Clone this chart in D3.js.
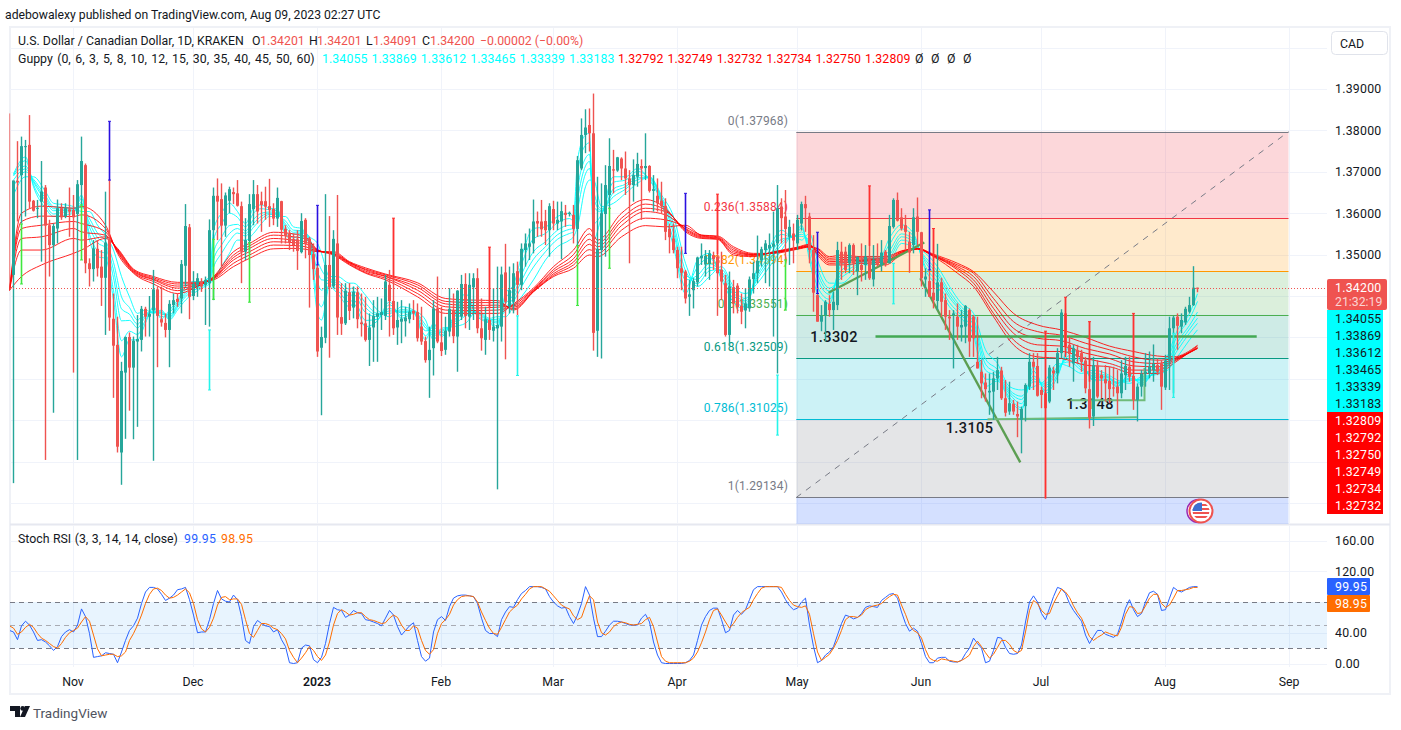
<!DOCTYPE html>
<html>
<head>
<meta charset="utf-8">
<script src="https://cdn.jsdelivr.net/npm/d3@7"></script>
<style>
html,body{margin:0;padding:0;background:#fff}
svg{display:block}
text{font-family:Roboto,"Noto Sans",sans-serif}
</style>
</head>
<body>
<svg id="chart" width="1401" height="730"></svg>
<script>
// USD/CAD daily bars, one list per month: [open, high, low, close] in 1/10000 of a dollar.
const oct22 = [[13420,13841,13414,13414],[13451,13679,12948,13679],[13678,13774,13580,13674],[13692,13785,13575,13762],[13760,13777,13592,13762],[13765,13837,13612,13628],[13630,13632,13604,13606],[13611,13632,13588,13613],[13628,13726,13483,13652],[13662,13668,13004,13570],[13571,13584,13447,13523],[13523,13575,13118,13569],[13563,13633,13527,13612],[13612,13624,13584,13590],[13592,13624,13588,13612],[13609,13662,13543,13604]];
const nov22 = [[13608,13644,13215,13590],[13598,13680,13004,13670],[13668,13785,13620,13726],[13716,13720,13455,13479],[13479,13491,13423,13465],[13465,13535,13435,13515],[13514,13535,13447,13467],[13471,13511,13376,13444],[13444,13652,13306,13529],[13538,13680,13316,13348],[13345,13406,13154,13280],[13282,13350,13022,13036],[13022,13241,12944,13219],[13215,13302,13055,13301],[13301,13312,13123,13227],[13227,13302,13054,13292],[13290,13354,13084,13296],[13294,13376,13266,13369],[13369,13374,13302,13350],[13350,13400,13302,13357],[13365,13463,13002,13416],[13416,13423,13228,13352],[13344,13423,13326,13336],[13335,13358,13300,13318],[13318,13390,13228,13381],[13378,13406,13358,13390],[13393,13406,13374,13386],[13394,13487,13358,13477],[13473,13622,13423,13569],[13566,13574,13344,13398]];
const dec22 = [[13400,13460,13390,13429],[13427,13455,13398,13443],[13435,13443,13410,13423],[13427,13447,13330,13439],[13431,13585,13326,13559],[13559,13662,13390,13642],[13642,13684,13535,13628],[13634,13672,13471,13570],[13570,13650,13543,13643],[13630,13664,13600,13658],[13651,13662,13622,13646],[13648,13680,13616,13618],[13617,13628,13431,13507],[13507,13588,13487,13535],[13533,13646,13503,13622],[13610,13680,13571,13646],[13646,13668,13575,13604],[13629,13652,13555,13620],[13629,13664,13584,13616],[13617,13683,13567,13608],[13610,13624,13571,13587],[13587,13662,13567,13637],[13629,13630,13527,13560],[13562,13571,13527,13546],[13551,13559,13511,13530],[13538,13551,13507,13523],[13537,13559,13463,13509],[13506,13600,13503,13581],[13584,13588,13491,13526],[13539,13543,13372,13499],[13501,13527,13439,13465]];
const jan23 = [[13468,13475,13253,13266],[13275,13326,13112,13301],[13299,13646,13286,13475],[13475,13593,13251,13421],[13423,13559,13419,13538],[13527,13644,13306,13348],[13349,13431,13306,13333],[13334,13431,13330,13413],[13409,13431,13342,13364],[13372,13423,13346,13410],[13409,13423,13322,13344],[13336,13406,13302,13332],[13334,13398,13290,13294],[13294,13358,13231,13324],[13324,13390,13241,13352],[13350,13398,13241,13358],[13354,13394,13318,13361],[13352,13451,13342,13435],[13427,13463,13302,13388],[13388,13588,13306,13322],[13324,13386,13282,13342],[13338,13390,13286,13345],[13339,13374,13302,13348],[13344,13382,13334,13362],[13364,13390,13342,13358],[13361,13382,13290,13298],[13326,13374,13282,13290],[13291,13302,13239,13245],[13245,13326,13154,13270],[13274,13390,13208,13370],[13370,13447,13286,13290]];
const feb23 = [[13288,13374,13255,13267],[13270,13350,13258,13316],[13314,13419,13302,13369],[13366,13406,13286,13303],[13302,13414,13217,13413],[13350,13451,13342,13429],[13429,13455,13322,13352],[13350,13455,13318,13427],[13421,13455,13342,13443],[13443,13467,13310,13322],[13322,13394,13268,13298],[13294,13374,13258,13344],[13342,13518,13294,13318],[13316,13419,13290,13326],[13322,13471,12933,13330],[13326,13471,13290,13452],[13457,13526,13247,13386],[13374,13471,13358,13414],[13386,13479,13358,13455],[13460,13483,13354,13427],[13427,13527,13414,13514],[13511,13551,13471,13527],[13519,13563,13487,13527],[13527,13633,13503,13580],[13581,13604,13543,13575],[13580,13632,13543,13561],[13581,13608,13523,13559],[13559,13624,13495,13617]];
const mar23 = [[13610,13630,13559,13575],[13575,13628,13559,13584],[13580,13628,13489,13605],[13601,13620,13567,13596],[13598,13604,13592,13601],[13596,13620,13527,13562],[13562,13738,13523,13728],[13708,13829,13704,13789],[13789,13851,13745,13807],[13813,13853,13749,13793],[13793,13889,13268,13311],[13316,13688,13253,13514],[13511,13672,13249,13600],[13598,13716,13495,13668],[13644,13781,13612,13714],[13706,13753,13648,13703],[13703,13736,13700,13735],[13732,13735,13680,13708],[13708,13749,13644,13684],[13684,13704,13479,13668],[13668,13730,13628,13692],[13688,13746,13664,13719],[13714,13730,13584,13708],[13709,13793,13680,13714],[13714,13716,13650,13654],[13654,13692,13604,13658],[13642,13684,13604,13624],[13630,13676,13600,13617],[13617,13636,13535,13555],[13562,13575,13503,13542],[13539,13575,13503,13511]];
const apr23 = [[13511,13519,13443,13467],[13467,13519,13414,13456],[13459,13463,13382,13394],[13398,13439,13352,13404],[13414,13443,13370,13436],[13433,13495,13423,13493],[13491,13527,13475,13497],[13476,13511,13447,13497],[13477,13511,13439,13503],[13499,13507,13463,13489],[13495,13646,13352,13455],[13463,13507,13390,13435],[13431,13451,13302,13306],[13306,13459,13278,13423],[13421,13439,13358,13382],[13425,13431,13358,13373],[13376,13406,13332,13362],[13365,13419,13322,13382],[13370,13447,13362,13440],[13441,13483,13406,13455],[13455,13546,13431,13485],[13487,13519,13471,13513],[13511,13535,13431,13527],[13515,13551,13423,13523],[13519,13604,13302,13527],[13527,13668,13213,13612],[13616,13636,13527,13588],[13592,13656,13487,13562],[13543,13584,13475,13567],[13551,13575,13479,13534]];
const may23 = [[13527,13596,13511,13584],[13575,13628,13558,13622],[13622,13642,13555,13612],[13592,13601,13479,13511],[13511,13547,13362,13408],[13402,13406,13338,13338],[13338,13378,13315,13352],[13354,13390,13290,13386],[13381,13402,13350,13366],[13366,13410,13318,13386],[13378,13531,13366,13511],[13507,13531,13439,13479],[13507,13519,13455,13463],[13479,13527,13455,13523],[13523,13527,13451,13479],[13459,13495,13402,13495],[13475,13527,13435,13463],[13475,13523,13439,13495],[13491,13666,13439,13443],[13440,13523,13423,13487],[13489,13527,13471,13475],[13475,13535,13459,13505],[13507,13511,13471,13479],[13479,13596,13479,13569],[13567,13636,13563,13632],[13632,13650,13580,13582],[13590,13612,13558,13563],[13571,13596,13511,13555],[13531,13555,13456,13505],[13523,13612,13503,13590],[13592,13638,13523,13555]];
const jun23 = [[13554,13555,13423,13443],[13440,13467,13398,13447],[13436,13463,13398,13398],[13408,13563,13370,13390],[13388,13526,13366,13433],[13433,13444,13350,13386],[13390,13406,13318,13350],[13350,13366,13294,13346],[13354,13366,13225,13358],[13350,13382,13294,13326],[13324,13366,13290,13330],[13326,13378,13286,13376],[13366,13370,13253,13290],[13350,13354,13253,13298],[13241,13350,13225,13225],[13217,13245,13153,13189],[13191,13213,13145,13175],[13167,13213,13113,13171],[13169,13217,13101,13201],[13201,13253,13173,13221],[13220,13229,13149,13153],[13153,13197,13109,13118],[13121,13193,13113,13141],[13139,13149,13113,13121],[13115,13145,13059,13109],[13101,13133,13020,13127],[13134,13189,13097,13185],[13181,13262,13173,13241],[13241,13262,13173,13229],[13231,13262,13157,13159]];
const jul23 = [[13173,13181,13129,13161],[13165,13315,12911,13129],[13145,13233,13141,13227],[13220,13229,13173,13213],[13213,13274,13189,13262],[13262,13368,13249,13360],[13358,13397,13270,13278],[13282,13302,13229,13260],[13237,13282,13193,13274],[13268,13282,13237,13253],[13262,13270,13217,13241],[13244,13253,13165,13177],[13175,13338,13080,13105],[13109,13253,13086,13233],[13232,13245,13153,13157],[13209,13221,13153,13201],[13199,13233,13145,13189],[13195,13229,13141,13175],[13179,13229,13157,13177],[13181,13221,13113,13165],[13165,13245,13153,13213],[13209,13253,13173,13231],[13229,13253,13193,13205],[13207,13358,13125,13149],[13149,13189,13097,13181],[13181,13221,13157,13212],[13212,13262,13181,13217],[13213,13266,13201,13229],[13221,13283,13193,13236],[13233,13249,13209,13217],[13237,13245,13125,13181]];
const aug23 = [[13179,13258,13173,13244],[13245,13350,13173,13322],[13322,13352,13165,13348],[13350,13358,13270,13328],[13326,13358,13310,13342],[13336,13374,13330,13369],[13362,13398,13358,13378],[13378,13472,13376,13420],[13420.1,13420.1,13409.1,13420]];

// Fast Guppy lines read at irregular days: [day number, ema3, ema5, ema8, ema10, ema12, ema15].
const fastRibbonAutumn = [[0,13695,13692,13690,13680,13665,13644],[3,13736,13727,13714,13707,13700,13688],[5,13664,13669,13675,13678,13682,13688],[8,13612,13620,13630,13636,13642,13652],[10,13592,13598,13606,13611,13616,13624],[13,13596,13603,13607,13610,13614,13620],[15,13600,13603,13607,13610,13612,13616],[17,13644,13636,13626,13620,13614,13604],[19,13535,13549,13566,13576,13587,13604],[21,13495,13510,13529,13541,13552,13571],[23,13491,13502,13516,13525,13533,13547],[25,13390,13414,13444,13463,13481,13511],[27,13253,13292,13340,13369,13398,13447],[29,13294,13315,13341,13356,13372,13398],[31,13294,13307,13323,13332,13342,13358],[33,13335,13342,13350,13354,13359,13366],[35,13374,13370,13364,13362,13360,13358],[37,13345,13350,13356,13360,13362,13366],[39,13366,13360,13354,13350,13346,13342],[41,13390,13385,13380,13376,13372,13366],[43,13423,13416,13408,13403,13398,13390],[45,13435,13429,13422,13418,13413,13406],[47,13435,13432,13428,13425,13423,13419],[49,13447,13443,13439,13436,13434,13429]];
const fastRibbonWinter = [[50,13559,13535,13505,13487,13469,13439],[52,13600,13574,13542,13523,13503,13471],[54,13624,13600,13570,13551,13533,13503],[56,13604,13590,13573,13563,13552,13535],[58,13575,13567,13557,13551,13545,13535],[60,13612,13600,13585,13575,13566,13551],[62,13620,13611,13600,13593,13586,13575],[64,13612,13608,13603,13600,13597,13592],[66,13610,13606,13602,13599,13596,13592],[68,13547,13556,13567,13574,13581,13592],[70,13535,13541,13549,13554,13559,13567],[72,13543,13547,13552,13555,13558,13563],[74,13527,13530,13534,13537,13539,13543],[76,13358,13392,13434,13459,13485,13527],[77,13342,13374,13414,13439,13463,13503],[79,13423,13428,13434,13437,13441,13447],[81,13406,13414,13425,13431,13437,13447],[84,13374,13385,13400,13408,13417,13431],[85,13382,13391,13404,13412,13420,13431],[88,13326,13341,13360,13372,13383,13402],[91,13340,13344,13350,13354,13358,13366],[94,13386,13379,13370,13364,13358,13350],[97,13346,13352,13359,13363,13367,13374],[100,13358,13360,13362,13363,13364,13366],[103,13294,13304,13316,13323,13330,13342],[105,13334,13326,13316,13310,13304,13294],[107,13302,13306,13311,13314,13317,13322],[110,13350,13344,13338,13334,13330,13326],[113,13406,13392,13374,13363,13352,13334],[116,13350,13353,13357,13359,13362,13366],[119,13334,13336,13339,13341,13343,13346],[121,13322,13328,13335,13339,13344,13350]];
const fastRibbonSpring = [[123,13406,13395,13381,13372,13364,13350],[125,13427,13416,13403,13395,13387,13374],[127,13495,13476,13452,13437,13422,13398],[130,13563,13538,13507,13489,13470,13439],[133,13567,13551,13531,13519,13507,13487],[136,13592,13577,13559,13548,13537,13519],[139,13600,13587,13571,13561,13551,13535],[140,13592,13582,13570,13563,13555,13543],[141,13728,13696,13656,13632,13607,13567],[143,13789,13764,13733,13714,13695,13664],[144,13793,13770,13742,13725,13708,13680],[145,13535,13575,13615,13637,13655,13680],[147,13592,13597,13603,13606,13610,13616],[150,13688,13675,13659,13650,13640,13624],[153,13688,13680,13670,13664,13658,13648],[156,13708,13701,13692,13686,13681,13672],[159,13680,13682,13684,13685,13686,13688],[162,13624,13628,13633,13636,13639,13644],[165,13519,13534,13552,13563,13574,13592],[168,13406,13421,13439,13450,13461,13479],[171,13487,13470,13450,13440,13430,13423],[174,13503,13492,13478,13469,13461,13447],[177,13440,13447,13455,13459,13464,13471],[180,13385,13392,13402,13408,13414,13423],[183,13368,13374,13382,13388,13394,13406],[186,13471,13463,13453,13447,13441,13431],[189,13519,13509,13497,13490,13483,13471],[192,13559,13549,13537,13530,13523,13511],[195,13540,13541,13543,13544,13545,13547],[197,13571,13564,13555,13549,13544,13535],[199,13487,13500,13516,13525,13535,13551],[201,13406,13422,13442,13455,13467,13487],[204,13382,13392,13404,13412,13419,13431],[207,13487,13476,13462,13453,13445,13431]];
const fastRibbonSummer = [[210,13495,13487,13477,13471,13465,13455],[213,13475,13479,13484,13487,13490,13495],[216,13479,13482,13486,13489,13491,13495],[219,13540,13525,13510,13500,13495,13487],[222,13572,13562,13550,13543,13535,13527],[225,13551,13545,13537,13532,13527,13519],[228,13463,13471,13481,13487,13493,13503],[231,13423,13433,13444,13452,13459,13471],[234,13374,13384,13396,13403,13411,13423],[237,13345,13353,13362,13367,13373,13382],[240,13305,13316,13329,13337,13345,13358],[243,13181,13199,13221,13235,13248,13270],[246,13195,13198,13205,13212,13222,13237],[249,13149,13155,13163,13168,13173,13181],[252,13125,13130,13140,13150,13158,13173],[255,13229,13219,13207,13200,13193,13181],[258,13165,13171,13179,13184,13189,13197],[261,13205,13211,13219,13224,13229,13237],[264,13278,13268,13256,13249,13241,13229],[267,13245,13239,13231,13226,13221,13213],[270,13195,13198,13203,13207,13213,13221],[273,13197,13200,13204,13206,13209,13213],[276,13181,13184,13188,13190,13192,13197],[279,13213,13208,13202,13199,13195,13189],[282,13185,13189,13194,13197,13200,13205],[285,13217,13215,13213,13212,13211,13209],[288,13245,13239,13232,13228,13224,13217],[291,13318,13305,13289,13279,13269,13253],[294,13358,13345,13329,13320,13310,13294],[296,13405.5,13386.9,13361.2,13346.5,13333.9,13318.3]];

// Slow Guppy lines: [day number, ema30, ema35, ema40, ema45, ema50, ema60].
const slowRibbonFirst = [[-1,13414,13414,13414,13414,13414,13414],[2,13600,13580,13563,13539,13511,13447],[7,13617,13593,13571,13543,13511,13475],[15,13612,13592,13580,13563,13539,13503],[17,13616,13596,13575,13555,13535,13511],[23,13571,13563,13555,13547,13543,13539],[26,13503,13507,13509,13511,13513,13515],[30,13455,13457,13459,13461,13463,13465],[35,13429,13435,13439,13441,13444,13447],[41,13406,13413,13419,13424,13429,13433],[46,13423,13424,13427,13429,13431,13433],[50,13447,13445,13443,13443,13441,13439],[55,13507,13499,13493,13487,13479,13471],[59,13527,13521,13515,13507,13499,13491],[65,13554,13547,13539,13531,13523,13514],[70,13550,13543,13535,13529,13522,13515],[73,13543,13538,13531,13526,13519,13513],[76,13511,13512,13510,13509,13508,13507],[80,13499,13501,13502,13503,13505,13507],[84,13475,13477,13479,13481,13481,13483],[88,13455,13457,13460,13463,13465,13468],[93,13439,13443,13447,13448,13451,13453],[101,13398,13406,13414,13421,13427,13432],[108,13358,13366,13374,13381,13387,13394],[115,13358,13365,13371,13377,13384,13390],[121,13358,13366,13373,13378,13384,13389],[125,13381,13378,13376,13373,13369,13366],[130,13419,13416,13414,13412,13411,13410],[135,13471,13464,13459,13454,13450,13447],[140,13511,13500,13490,13482,13475,13467]];
const slowRibbonLast = [[144,13563,13550,13537,13525,13512,13499],[146,13535,13527,13519,13511,13503,13495],[152,13600,13588,13580,13570,13559,13543],[158,13633,13622,13612,13604,13588,13570],[163,13612,13608,13604,13596,13584,13567],[168,13555,13558,13561,13563,13567,13571],[172,13539,13541,13543,13545,13547,13547],[176,13537,13538,13540,13541,13543,13545],[180,13499,13503,13507,13511,13515,13519],[185,13495,13497,13499,13500,13501,13503],[190,13507,13506,13505,13504,13504,13503],[196,13518,13517,13516,13515,13514,13513],[199,13525,13523,13521,13520,13519,13518],[201,13499,13503,13507,13509,13513,13515],[204,13475,13479,13483,13487,13491,13495],[207,13475,13480,13484,13488,13493,13499],[212,13479,13483,13486,13489,13492,13495],[218,13475,13480,13484,13487,13491,13495],[222,13501,13503,13505,13506,13508,13509],[226,13513,13514,13514,13514,13515,13515],[230,13495,13497,13497,13498,13499,13501],[236,13455,13463,13467,13471,13475,13479],[240,13423,13431,13439,13447,13455,13459],[245,13350,13358,13370,13382,13394,13410],[250,13282,13294,13310,13322,13338,13358],[256,13253,13266,13282,13298,13314,13330],[262,13249,13266,13279,13292,13305,13318],[268,13233,13249,13262,13273,13286,13300],[274,13229,13237,13249,13260,13270,13279],[280,13213,13221,13231,13241,13253,13266],[286,13213,13221,13229,13237,13245,13255],[290,13237,13241,13244,13247,13249,13253],[296,13279.2,13274.9,13273.2,13273.4,13275.0,13280.9]];

// Marker bars laid over single days: [day number, top, bottom].
const blueMarks = [[24,13822,13680],[76,13619,13475],[168,13648,13503],[201,13554,13406],[229,13608,13463]];
const limeMarks = [[2,13574,13429],[17,13620,13487],[50,13537,13392],[59,13529,13385],[141,13522,13377],[149,13612,13467],[193,13487,13366]];
const aquaMarks = [[49,13318,13173],[126,13352,13208],[191,13209,13064],[220,13479,13381],[290,13310,13155]];
const redMarks = [[95,13588,13443],[119,13518,13373],[176,13646,13501],[214,13666,13521],[230,13563,13418],[258,13315,12911],[263,13397,13252],[269,13338,13193],[280,13358,13213]];

// Stochastic RSI, one value per day.
const stochK = [43,41,31,49,55,50,41,30,31,28,23,17,22,35,41,44,41,50,71,61,39,8,9,10,14,13,12,1,15,30,43,49,59,78,93,99,99,97,90,82,85,89,96,97,99,83,63,40,41,41,57,78,95,84,81,80,89,83,61,30,26,48,56,52,49,48,41,44,31,22,1,0,1,20,24,23,5,1,8,26,52,73,70,69,60,63,69,66,65,57,56,54,52,49,59,69,63,48,37,43,49,53,30,9,3,7,41,57,61,56,74,
85,88,89,89,88,87,78,59,43,39,39,35,57,67,74,73,83,91,95,100,100,100,99,97,87,80,75,72,73,61,52,63,78,100,89,59,35,35,42,50,55,55,54,52,50,50,50,59,64,54,28,11,1,0,0,0,0,0,1,4,11,30,50,61,69,72,72,57,40,43,63,69,64,70,83,96,100,100,100,100,100,100,93,83,75,70,72,80,85,50,22,1,4,11,15,22,37,52,63,61,58,60,65,73,75,74,73,82,86,90,91,85,
67,52,42,46,42,26,9,1,1,7,8,8,3,2,2,4,13,20,33,26,20,1,3,17,34,33,21,13,12,13,24,54,80,88,80,65,57,72,87,99,97,91,78,69,62,55,37,26,35,43,43,38,36,34,38,54,72,83,70,61,65,80,92,94,90,69,70,85,99,95,93,96,99,100,99.95];
const stochD = [49,46,38,41,47,51,47,39,33,30,26,22,20,26,34,40,43,46,54,61,55,37,19,10,11,12,12,9,10,15,30,39,50,63,78,90,97,98,95,89,85,86,89,93,97,92,78,57,45,41,47,59,76,86,87,83,84,84,77,57,39,34,43,52,52,50,46,44,39,32,17,8,1,7,14,22,17,9,4,11,28,50,65,70,67,63,64,66,66,61,57,56,54,52,53,59,63,60,50,43,43,49,46,30,17,12,18,39,52,57,64,
76,83,87,88,88,87,80,67,56,46,39,38,47,57,67,72,76,84,90,97,100,100,100,97,94,88,82,76,73,71,62,57,60,75,88,83,54,40,37,41,48,52,54,53,51,50,51,52,57,60,48,28,9,3,1,1,1,1,1,3,7,15,27,41,57,69,71,63,54,46,52,60,66,70,73,83,91,98,100,100,100,100,99,90,82,76,74,73,75,64,39,15,4,8,12,20,30,43,57,61,61,60,63,70,73,75,76,78,83,87,90,89,
76,64,50,43,40,33,18,7,4,3,6,5,4,3,2,4,7,11,22,29,22,14,7,12,21,30,30,25,17,14,17,41,69,82,78,69,64,65,78,88,97,93,86,75,66,59,47,35,30,34,37,41,39,37,36,47,64,74,73,65,66,75,85,90,90,78,73,76,85,95,95,96,97,99,98.95];

// Tick values, labels and reference levels.
const priceTicks = [1.40,1.39,1.38,1.37,1.36,1.35,1.34,1.33,1.32,1.31,1.30,1.29];
const priceTickLabels = [1.39,1.38,1.37,1.36,1.35];
const stochTicks = [160,120,40,0];
const monthTicks = ["2022-11-01","2022-12-01","2023-01-01","2023-02-01","2023-03-01","2023-04-01","2023-05-01","2023-06-01","2023-07-01","2023-08-01","2023-09-01"];
const monthNames = ["Nov","Dec","2023","Feb","Mar","Apr","May","Jun","Jul","Aug","Sep"];
const fibRatios = ["0","0.236","0.382","0.5","0.618","0.786","1"];
const fibPrices = [1.37968,1.35884,1.34594,1.33551,1.32509,1.31025,1.29134];
const fibLowestEdge = 1.25731;
const guppyFastLegend = ["1.34055","1.33869","1.33612","1.33465","1.33339","1.33183"];
const guppySlowLegend = ["1.32792","1.32749","1.32732","1.32734","1.32750","1.32809"];
const guppyFastTags = ["1.34055","1.33869","1.33612","1.33465","1.33339","1.33183"];
const guppySlowTags = ["1.32809","1.32792","1.32750","1.32749","1.32734","1.32732"];

// Hand-drawn annotations: [day number, price in 1/10000].
const supportRising = [[203.75,13408],[227.7,13529]];
const slideDown = [[226.7,13443],[251.7,12998]];
const levelHigh = [[215.5,13302],[310.8,13302]];
const levelLow = [[243.5,13102],[280.85,13107]];
const levelMid = [[264.2,13148],[282.75,13148],[282.75,13226]];

const svg = d3.select("#chart");
const W = 1401, paneL = 10, paneR = 1327, mainT = 28, mainB = 524, oscT = 526, oscB = 667;
const FIRST_DAY = Date.UTC(2022,9,17);
const dayMs = 86400000;
const dateOf = n => new Date(FIRST_DAY + n*dayMs);

const x = d3.scaleUtc().domain([dateOf(-1), new Date(Date.UTC(2023,8,1))]).range([9.5,1289.5]);
const y = d3.scaleLinear().domain([1.29,1.39]).range([503,89]);
const yPts = v => y(v/10000);
const yOsc = d3.scaleLinear().domain([0,160]).range([663.5,540.5]);
const xDay = n => x(dateOf(n));
const monthDates = monthTicks.map(s => new Date(s+"T00:00:00Z"));

const bars = [oct22,nov22,dec22,jan23,feb23,mar23,apr23,may23,jun23,jul23,aug23].flat()
  .map((r,i) => ({day:i-1, open:r[0], high:r[1], low:r[2], close:r[3]}));

const defs = svg.append("defs");
defs.append("clipPath").attr("id","mainClip").append("rect").attr("x",9).attr("y",mainT).attr("width",paneR-9).attr("height",mainB-mainT);
defs.append("clipPath").attr("id","oscClip").append("rect").attr("x",paneL).attr("y",oscT).attr("width",paneR-paneL).attr("height",oscB-oscT);
defs.append("clipPath").attr("id","flagClip").append("circle").attr("r",8.5);

svg.append("rect").attr("width",W).attr("height",730).attr("fill","#fff");

// Page caption and frame
svg.append("text").attr("x",5).attr("y",19).attr("font-size",12.2).attr("fill","#131722")
  .text("adebowalexy published on TradingView.com, Aug 09, 2023 02:27 UTC");
svg.append("rect").attr("x",10).attr("y",27).attr("width",1380).attr("height",667).attr("fill","none").attr("stroke","#eff1f6").attr("stroke-width",2);
svg.append("line").attr("x1",10).attr("x2",1390).attr("y1",524.5).attr("y2",524.5).attr("stroke","#e6e8f0").attr("stroke-width",2);

// Grid
const grid = svg.append("g").attr("stroke","#f0f3fa");
grid.selectAll(".gh").data(priceTicks).join("line").attr("class","gh")
  .attr("x1",paneL).attr("x2",paneR).attr("y1",d=>Math.round(y(d))+.5).attr("y2",d=>Math.round(y(d))+.5);
grid.selectAll(".gv").data(monthDates).join("line").attr("class","gv")
  .attr("x1",d=>x(d)).attr("x2",d=>x(d)).attr("y1",mainT).attr("y2",mainB-1);
grid.selectAll(".gov").data(monthDates).join("line").attr("class","gov")
  .attr("x1",d=>x(d)).attr("x2",d=>x(d)).attr("y1",oscT).attr("y2",oscB);
grid.selectAll(".goh").data(stochTicks).join("line").attr("class","goh")
  .attr("x1",paneL).attr("x2",paneR).attr("y1",d=>Math.round(yOsc(d))+.5).attr("y2",d=>Math.round(yOsc(d))+.5);

// Fibonacci retracement
const main = svg.append("g").attr("clip-path","url(#mainClip)");
const fibL = x(dateOf(195.7)), fibR = x(monthDates[10])-1;
const fibColors = ["#787b86","#f23645","#ff9800","#4caf50","#089981","#00bcd4","#787b86"];
const fibBandColors = ["#f23645","#ff9800","#4caf50","#089981","#00bcd4","#787b86","#2962ff"];
const fibEdges = fibPrices.slice(1).map((p,i)=>[fibPrices[i],p]).concat([[fibPrices[6],fibLowestEdge]]);
main.selectAll(".fibBand").data(fibEdges).join("rect").attr("class","fibBand")
  .attr("x",fibL).attr("width",fibR-fibL).attr("y",d=>y(d[0])).attr("height",d=>y(d[1])-y(d[0]))
  .attr("fill",(d,i)=>fibBandColors[i]).attr("fill-opacity",.2);
main.selectAll(".fibLine").data(fibPrices).join("line").attr("class","fibLine")
  .attr("x1",fibL).attr("x2",fibR).attr("y1",d=>Math.round(y(d))+.5).attr("y2",d=>Math.round(y(d))+.5)
  .attr("stroke",(d,i)=>fibColors[i]).attr("stroke-width",1.2);
main.selectAll(".fibText").data(fibPrices).join("text").attr("class","fibText")
  .attr("x",788).attr("y",d=>y(d)-7).attr("text-anchor","end").attr("font-size",12)
  .attr("letter-spacing",.15).attr("fill",(d,i)=>fibColors[i]).text((d,i)=>`${fibRatios[i]}(${d3.format(".5f")(d)})`);
main.append("line").attr("x1",fibL).attr("x2",fibR).attr("y1",y(fibPrices[6])).attr("y2",y(fibPrices[0]))
  .attr("stroke","#787b86").attr("stroke-dasharray","6 6");

// Annotation labels sit under the candles
const annotate = [["1.3302",834,341.5],["1.3105",969.5,432.5],["1.3148",1090,408.5]];
main.selectAll(".note").data(annotate).join("text").attr("class","note")
  .attr("x",d=>d[1]).attr("y",d=>d[2]).attr("text-anchor","middle").attr("font-size",14.5).attr("font-weight",500)
  .attr("letter-spacing",.4).attr("fill","#131722").text(d=>d[0]);

// Guppy ribbons
const ribbonLine = col => d3.line().x(r=>xDay(r[0])).y(r=>yPts(r[col])).curve(d3.curveMonotoneX);
const fastRows = [...fastRibbonAutumn,...fastRibbonWinter,...fastRibbonSpring,...fastRibbonSummer];
const slowRows = [...slowRibbonFirst,...slowRibbonLast];
d3.range(1,7).forEach(c=>{
  main.append("path").attr("d",ribbonLine(c)(fastRows)).attr("fill","none").attr("stroke","#00ffff").attr("stroke-opacity",.9).attr("stroke-width",1);
});
d3.range(1,7).forEach(c=>{
  main.append("path").attr("d",ribbonLine(c)(slowRows)).attr("fill","none").attr("stroke","#ff0000").attr("stroke-opacity",.85).attr("stroke-width",1);
});

// Trader's drawings
const drawLine = d3.line().x(r=>xDay(r[0])).y(r=>yPts(r[1]));
[[supportRising,"#5c9e52",2.2],[slideDown,"#5c9e52",2.4],[levelHigh,"#43a853",2.4],[levelLow,"#6fbb7a",2],[levelMid,"#6fbb7a",2]].forEach(([pts,c,w])=>{
  main.append("path").attr("d",drawLine(pts)).attr("fill","none").attr("stroke",c).attr("stroke-width",w);
});

// Candles
const UP = "#26a69a", DOWN = "#ef5350";
const col = d => d.close >= d.open ? UP : DOWN;
const WICK_W = 1.4;
main.selectAll(".wick").data(bars).join("rect").attr("class","wick")
  .attr("x",d=>xDay(d.day)-WICK_W/2).attr("width",WICK_W).attr("y",d=>yPts(d.high)).attr("height",d=>Math.max(1,yPts(d.low)-yPts(d.high)))
  .attr("fill",col).attr("opacity",d=>d.day<0?.6:1);
main.selectAll(".body").data(bars.filter(b=>b.day>=0)).join("rect").attr("class","body")
  .attr("x",d=>xDay(d.day)-1.5).attr("width",3)
  .attr("y",d=>yPts(Math.max(d.open,d.close))).attr("height",d=>Math.max(1,Math.abs(yPts(d.open)-yPts(d.close))))
  .attr("fill",col);

// Colored marker bars with end caps; red ones only show a top cap
[[blueMarks,"#2a10e0",true],[limeMarks,"#3fe83f",true],[aquaMarks,"#25f5ea",true],[redMarks,"#ff3030",false]].forEach(([rows,c,bottomCap])=>{
  const g = main.append("g").attr("stroke",c).attr("stroke-width",1.6);
  g.selectAll(".mv").data(rows).join("line").attr("class","mv").attr("x1",d=>xDay(d[0])).attr("x2",d=>xDay(d[0])).attr("y1",d=>yPts(d[1])).attr("y2",d=>yPts(d[2]));
  g.selectAll(".mt").data(rows).join("line").attr("class","mt").attr("stroke-width",1).attr("x1",d=>xDay(d[0])-1.5).attr("x2",d=>xDay(d[0])+1.5).attr("y1",d=>yPts(d[1])).attr("y2",d=>yPts(d[1]));
  if (bottomCap) g.selectAll(".mb").data(rows).join("line").attr("class","mb").attr("stroke-width",1).attr("x1",d=>xDay(d[0])-1.5).attr("x2",d=>xDay(d[0])+1.5).attr("y1",d=>yPts(d[2])).attr("y2",d=>yPts(d[2]));
});

// Last price guide
const lastClose = bars[bars.length-1].close;
svg.append("line").attr("x1",paneL).attr("x2",paneR).attr("y1",Math.round(yPts(lastClose))+.5).attr("y2",Math.round(yPts(lastClose))+.5)
  .attr("stroke","#ef5350").attr("stroke-dasharray","1 2");

// Event flag on the time line
const flag = main.append("g").attr("transform","translate(1201,511)");
flag.append("circle").attr("cx",-2.5).attr("r",11.5).attr("fill","#fff").attr("stroke","#9c27b0").attr("stroke-width",1.5);
flag.append("circle").attr("r",11.5).attr("fill","#fff").attr("stroke","#ef5350").attr("stroke-width",2);
const flagFace = flag.append("g").attr("clip-path","url(#flagClip)");
flagFace.selectAll(".st").data([-6,-2,2,6]).join("rect").attr("class","st").attr("x",-9).attr("y",d=>d-1).attr("width",18).attr("height",2).attr("fill","#ef5350");
flagFace.append("rect").attr("x",-9).attr("y",-9).attr("width",10).attr("height",9).attr("fill","#3f6fd0");

// Legend
const legendSym = svg.append("g").attr("font-size",12.3);
legendSym.append("text").attr("x",18).attr("y",45).attr("fill","#131722").text("U.S. Dollar / Canadian Dollar, 1D, KRAKEN");
const ohlc = [["O","1.34201",252,260],["H","1.34201",309,317],["L","1.34091",366,373],["C","1.34200",422,430]];
ohlc.forEach(([k,v,a,b])=>{
  legendSym.append("text").attr("x",a).attr("y",45).attr("fill","#131722").text(k);
  legendSym.append("text").attr("x",b).attr("y",45).attr("fill","#ef5350").text(v);
});
legendSym.append("text").attr("x",480).attr("y",45).attr("fill","#ef5350").text("−0.00002 (−0.00%)");
legendSym.append("text").attr("x",18).attr("y",63).attr("fill","#131722").attr("word-spacing",1.45).text("Guppy (0, 6, 3, 5, 8, 10, 12, 15, 30, 35, 40, 45, 50, 60)");
guppyFastLegend.forEach((v,i)=>legendSym.append("text").attr("x",322+i*49.4).attr("y",63).attr("letter-spacing",.1).attr("fill","#00ffff").text(v));
guppySlowLegend.forEach((v,i)=>legendSym.append("text").attr("x",618+i*49.4).attr("y",63).attr("letter-spacing",.1).attr("fill","#ff0000").text(v));
[915,931,947,963].forEach(px=>legendSym.append("text").attr("x",px).attr("y",63).attr("fill","#131722").text("Ø"));

// Price axis
const priceAxis = d3.axisRight(y).tickValues(priceTickLabels).tickSize(0).tickPadding(8).tickFormat(d3.format(".5f"));
const pa = svg.append("g").attr("transform",`translate(${paneR},0)`).call(priceAxis);
pa.select(".domain").remove();
pa.selectAll("text").attr("font-size",12.3).attr("letter-spacing",.25).attr("fill","#131722").style("font-family","Roboto");

// CAD unit button
svg.append("rect").attr("x",1331.5).attr("y",31.5).attr("width",56).attr("height",23).attr("rx",4).attr("fill","#fff").attr("stroke","#e0e3eb");
svg.append("text").attr("x",1340).attr("y",47.5).attr("font-size",12.3).attr("fill","#131722").text("CAD");

// Price tags
svg.append("rect").attr("x",paneR).attr("y",279).attr("width",60).attr("height",31).attr("rx",2).attr("fill","#ef5350");
svg.append("text").attr("x",1335).attr("y",292).attr("font-size",12.3).attr("letter-spacing",.25).attr("fill","#fff").text("1.34200");
svg.append("text").attr("x",1335).attr("y",306).attr("font-size",12.3).attr("fill","#fff").attr("fill-opacity",.75).text("21:32:19");
guppyFastTags.forEach((v,i)=>{
  svg.append("rect").attr("x",paneR).attr("y",310+i*17).attr("width",56).attr("height",17).attr("fill","#00ffff");
  svg.append("text").attr("x",1335).attr("y",323+i*17).attr("font-size",12.3).attr("letter-spacing",.25).attr("fill","#131722").text(v);
});
guppySlowTags.forEach((v,i)=>{
  svg.append("rect").attr("x",paneR).attr("y",412+i*17).attr("width",56).attr("height",17).attr("fill","#ff0000");
  svg.append("text").attr("x",1335).attr("y",425+i*17).attr("font-size",12.3).attr("letter-spacing",.25).attr("fill","#fff").text(v);
});

// Stochastic RSI pane
const osc = svg.append("g").attr("clip-path","url(#oscClip)");
osc.append("rect").attr("x",paneL).attr("width",paneR-paneL).attr("y",yOsc(80)).attr("height",yOsc(20)-yOsc(80)).attr("fill","#2196f3").attr("fill-opacity",.1);
[[80,"#787b86"],[50,"#a8abb3"],[20,"#787b86"]].forEach(([v,c])=>{
  osc.append("line").attr("x1",paneL).attr("x2",paneR).attr("y1",Math.round(yOsc(v))+.5).attr("y2",Math.round(yOsc(v))+.5).attr("stroke",c).attr("stroke-dasharray","5 4");
});
const oscLine = d3.line().x((v,i)=>xDay(i-1)).y(v=>yOsc(v));
osc.append("path").attr("d",oscLine(stochK)).attr("fill","none").attr("stroke","#2962ff").attr("stroke-width",1);
osc.append("path").attr("d",oscLine(stochD)).attr("fill","none").attr("stroke","#ff6d00").attr("stroke-width",1);

const oa = svg.append("g").attr("transform",`translate(${paneR},0)`)
  .call(d3.axisRight(yOsc).tickValues(stochTicks).tickSize(0).tickPadding(8).tickFormat(d3.format(".2f")));
oa.select(".domain").remove();
oa.selectAll("text").attr("font-size",12.3).attr("letter-spacing",.25).attr("fill","#131722").style("font-family","Roboto");

svg.append("text").attr("x",18).attr("y",543).attr("font-size",12.3).attr("word-spacing",.5).attr("fill","#131722").text("Stoch RSI (3, 3, 14, 14, close)");
svg.append("text").attr("x",184).attr("y",543).attr("font-size",12.3).attr("letter-spacing",.25).attr("fill","#2962ff").text("99.95");
svg.append("text").attr("x",221).attr("y",543).attr("font-size",12.3).attr("letter-spacing",.25).attr("fill","#ff6d00").text("98.95");
[["99.95","#2962ff",578],["98.95","#ff6d00",595]].forEach(([v,c,top])=>{
  svg.append("rect").attr("x",paneR).attr("y",top).attr("width",43).attr("height",17).attr("rx",1).attr("fill",c);
  svg.append("text").attr("x",1335).attr("y",top+13).attr("font-size",12.3).attr("letter-spacing",.25).attr("fill","#fff").text(v);
});

// Time axis
const timeAxis = d3.axisBottom(x).tickValues(monthDates).tickSize(0).tickPadding(10).tickFormat((d,i)=>monthNames[i]);
const ta = svg.append("g").attr("transform",`translate(-1,${oscB})`).call(timeAxis);
ta.select(".domain").remove();
ta.selectAll("text").attr("font-size",12.3).attr("fill","#131722").style("font-family","Roboto")
  .attr("font-weight",(d,i)=>monthNames[i]==="2023"?600:400);

// Publisher mark
const logo = svg.append("g").attr("fill","#131722");
logo.append("path").attr("d","M10 706h10v11h-5v-6h-5z");
logo.append("circle").attr("cx",22.7).attr("cy",708.4).attr("r",2.4);
logo.append("path").attr("d","M25 706h5l-5 11h-5z");
svg.append("text").attr("x",33).attr("y",717.5).attr("font-size",13.5).attr("fill","#50535e").text("TradingView");
</script>
</body>
</html>
